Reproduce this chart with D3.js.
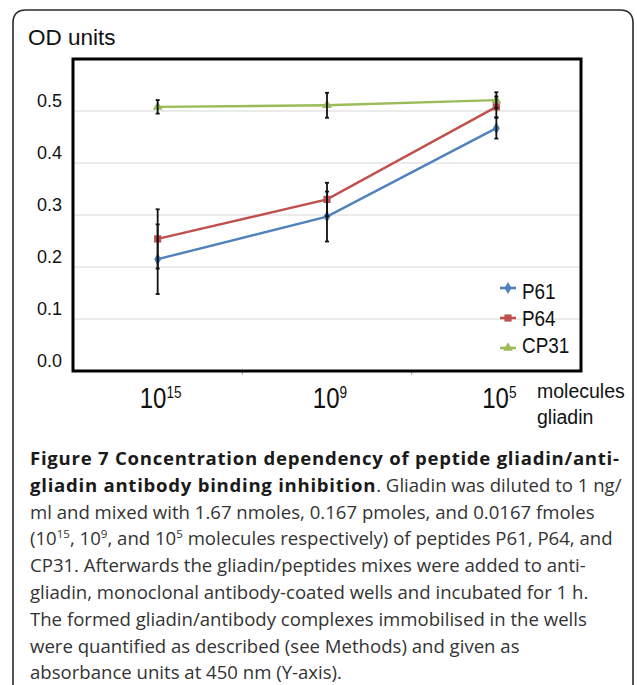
<!DOCTYPE html>
<html>
<head>
<meta charset="utf-8">
<script src="https://cdn.jsdelivr.net/npm/d3@7"></script>
<style>
  html, body { margin: 0; padding: 0; background: #fff; }
  svg { display: block; }
</style>
</head>
<body>
<svg id="chart" width="637" height="685"></svg>
<script>
// ---------------- data ----------------
const categories = ["15", "9", "5"];              // exponents of 10 (molecules gliadin)
const seriesNames = ["P61", "P64", "CP31"];
const seriesColors = ["#4f81bd", "#c0504d", "#9bbb59"];
const p61Values  = [0.215, 0.297, 0.467];
const p64Values  = [0.254, 0.330, 0.508];
const cp31Values = [0.508, 0.511, 0.521];
const p61Errors  = [0.067, 0.048, 0.020];
const p64Errors  = [0.057, 0.032, 0.020];
const cp31Errors = [0.013, 0.024, 0.015];
const yTicks = [0.0, 0.1, 0.2, 0.3, 0.4, 0.5];
const yTickLabels = ["0.0", "0.1", "0.2", "0.3", "0.4", "0.5"];

const series = [
  { name: seriesNames[0], color: seriesColors[0], values: p61Values,  errors: p61Errors,  symbol: d3.symbolDiamond,  size: 42 },
  { name: seriesNames[1], color: seriesColors[1], values: p64Values,  errors: p64Errors,  symbol: d3.symbolSquare,   size: 52 },
  { name: seriesNames[2], color: seriesColors[2], values: cp31Values, errors: cp31Errors, symbol: d3.symbolTriangle, size: 42 }
];

const captionLines = [
  [{ t: "Figure 7 Concentration dependency of peptide gliadin/anti-", b: true }],
  [{ t: "gliadin antibody binding inhibition", b: true }, { t: ". Gliadin was diluted to 1 ng/" }],
  [{ t: "ml and mixed with 1.67 nmoles, 0.167 pmoles, and 0.0167 fmoles" }],
  [{ t: "(10" }, { t: "15", s: true }, { t: ", 10" }, { t: "9", s: true }, { t: ", and 10" }, { t: "5", s: true }, { t: " molecules respectively) of peptides P61, P64, and" }],
  [{ t: "CP31. Afterwards the gliadin/peptides mixes were added to anti-" }],
  [{ t: "gliadin, monoclonal antibody-coated wells and incubated for 1 h." }],
  [{ t: "The formed gliadin/antibody complexes immobilised in the wells" }],
  [{ t: "were quantified as described (see Methods) and given as" }],
  [{ t: "absorbance units at 450 nm (Y-axis)." }]
];

// ---------------- layout ----------------
const svg = d3.select("#chart");
const plot = { left: 73, right: 581, top: 59, bottom: 371 };
const sans = "'Liberation Sans', Arial, sans-serif";

const x = d3.scalePoint().domain(categories).range([plot.left, plot.right]).padding(0.5);
const y = d3.scaleLinear().domain([0, 0.6]).range([plot.bottom, plot.top]);

// outer frame (rounded top corners, open at the bottom)
svg.append("path")
  .attr("d", "M13,700 L13,23 Q13,10 26,10 L620,10 Q633,10 633,23 L633,700")
  .attr("fill", "none").attr("stroke", "#2a2a2a").attr("stroke-width", 1.6);

// y-axis title
svg.append("text").attr("x", 28).attr("y", 45)
  .attr("font-family", sans).attr("font-size", 22.5).attr("fill", "#111")
  .text("OD units");

// gridlines
svg.append("g").selectAll("line").data(yTicks.filter(v => v > 0)).join("line")
  .attr("x1", plot.left).attr("x2", plot.right)
  .attr("y1", d => y(d)).attr("y2", d => y(d))
  .attr("stroke", "#d8d8d8").attr("stroke-width", 1.2);

// y tick labels
svg.append("g").selectAll("text").data(yTicks).join("text")
  .attr("x", 62).attr("y", d => y(d) - 4.5)
  .attr("text-anchor", "end")
  .attr("font-family", sans).attr("font-size", 18).attr("fill", "#111")
  .text((d, i) => yTickLabels[i]);

// small x ticks at category boundaries
const step = x.step();
svg.append("g").selectAll("line").data(categories.slice(1)).join("line")
  .attr("x1", d => x(d) - step / 2).attr("x2", d => x(d) - step / 2)
  .attr("y1", plot.bottom + 1).attr("y2", plot.bottom + 4)
  .attr("stroke", "#aaa").attr("stroke-width", 1);

// lines
const line = d3.line().x((d, i) => x(categories[i])).y(d => y(d));
series.forEach(s => {
  svg.append("path").datum(s.values)
    .attr("d", line).attr("fill", "none")
    .attr("stroke", s.color).attr("stroke-width", 2.4);
});

// markers
series.forEach(s => {
  svg.append("g").selectAll("path").data(s.values).join("path")
    .attr("transform", (d, i) => `translate(${x(categories[i])},${y(d)})`)
    .attr("d", d3.symbol(s.symbol, s.size))
    .attr("fill", s.color);
});

// error bars
series.forEach(s => {
  const g = svg.append("g").attr("stroke", "#111").attr("stroke-width", 1.8);
  s.values.forEach((v, i) => {
    const cx = x(categories[i]);
    const y0 = y(v - s.errors[i]), y1 = y(v + s.errors[i]);
    g.append("line").attr("x1", cx).attr("x2", cx).attr("y1", y0).attr("y2", y1);
    g.append("line").attr("x1", cx - 2).attr("x2", cx + 2).attr("y1", y0).attr("y2", y0);
    g.append("line").attr("x1", cx - 2).attr("x2", cx + 2).attr("y1", y1).attr("y2", y1);
  });
});

// plot frame
svg.append("rect")
  .attr("x", plot.left).attr("y", plot.top)
  .attr("width", plot.right - plot.left).attr("height", plot.bottom - plot.top)
  .attr("fill", "none").attr("stroke", "#000").attr("stroke-width", 3);

// x tick labels: 10^n
categories.forEach(c => {
  const t = svg.append("text")
    .attr("transform", `translate(${x(c) + 3},408) scale(0.8,1)`)
    .attr("text-anchor", "middle")
    .attr("font-family", sans).attr("fill", "#111");
  t.append("tspan").attr("font-size", 30).text("10");
  t.append("tspan").attr("font-size", 17).attr("dy", -10).text(c);
});

// x axis title
svg.append("text").attr("x", 537).attr("y", 398)
  .attr("font-family", sans).attr("font-size", 19.5).attr("fill", "#111").text("molecules");
svg.append("text").attr("x", 537).attr("y", 424)
  .attr("font-family", sans).attr("font-size", 19.5).attr("fill", "#111").text("gliadin");

// legend
series.forEach((s, i) => {
  const ly = 288 + i * 30;
  svg.append("line").attr("x1", 500).attr("x2", 516).attr("y1", ly).attr("y2", ly)
    .attr("stroke", s.color).attr("stroke-width", 2.6);
  svg.append("path").attr("transform", `translate(508,${ly})`)
    .attr("d", d3.symbol(s.symbol, s.size)).attr("fill", s.color);
  svg.append("text")
    .attr("transform", `translate(522,${299 + i * 27}) scale(0.86,1)`)
    .attr("font-family", sans).attr("font-size", 22).attr("fill", "#111")
    .text(s.name);
});

// caption
const capFont = "'Open Sans', 'Noto Sans', sans-serif";
const cap = svg.append("g").attr("font-family", capFont).attr("font-size", 18.5).attr("fill", "#222");
const capTexts = captionLines.map((segs, li) => {
  const t = cap.append("text").attr("x", 0).attr("y", 465 + li * 26.8);
  let prevSup = false;
  segs.forEach(sg => {
    const ts = t.append("tspan").text(sg.t);
    if (sg.b) ts.attr("font-weight", "bold").attr("fill", "#1a1a1a").classed("bold", true);
    else ts.attr("fill", "#333");
    if (sg.s) ts.attr("font-size", 11.5).attr("dy", -7);
    else if (prevSup) ts.attr("dy", 7);
    prevSup = !!sg.s;
  });
  return t;
});
const w3 = capTexts[2].node().getComputedTextLength();
const sx = 565 / w3;
cap.attr("transform", `translate(30,0) scale(${sx},1)`);
// widen the bold run to match the reference
const w1 = capTexts[0].node().getComputedTextLength();
const n1 = captionLines[0][0].t.length;
const ls = (589 / sx - w1) / (n1 - 1);
cap.selectAll("tspan.bold").attr("letter-spacing", ls);
</script>
</body>
</html>
